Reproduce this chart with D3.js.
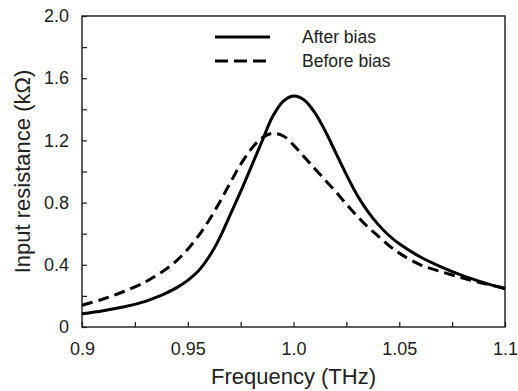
<!DOCTYPE html>
<html>
<head>
<meta charset="utf-8">
<script src="https://cdn.jsdelivr.net/npm/d3@7"></script>
<style>
  body { margin: 0; background: #fff; }
  svg { font-family: "Liberation Sans", Arial, sans-serif; }
</style>
</head>
<body>
<div id="chart"></div>
<script>
// frequency samples (THz)
const freq = [0.90, 0.91, 0.92, 0.93, 0.935, 0.94, 0.945, 0.95, 0.955, 0.96, 0.965, 0.97, 0.975, 0.98,
  0.985, 0.99, 0.995, 1.0, 1.005, 1.01, 1.015, 1.02, 1.025, 1.03, 1.035, 1.04, 1.045,
  1.05, 1.06, 1.07, 1.08, 1.09, 1.10];
// input resistance (kOhm)
const afterBias = [0.085, 0.105, 0.13, 0.165, 0.19, 0.22, 0.255, 0.30, 0.36, 0.45, 0.57, 0.72, 0.87, 1.03,
  1.19, 1.35, 1.45, 1.485, 1.46, 1.38, 1.26, 1.12, 0.98, 0.85, 0.745, 0.66, 0.59,
  0.535, 0.45, 0.385, 0.33, 0.285, 0.245];
const beforeBias = [0.14, 0.18, 0.23, 0.29, 0.33, 0.375, 0.43, 0.50, 0.585, 0.685, 0.80, 0.925, 1.045, 1.145,
  1.215, 1.245, 1.23, 1.17, 1.095, 1.02, 0.945, 0.87, 0.79, 0.715, 0.645, 0.585, 0.525,
  0.475, 0.40, 0.355, 0.315, 0.28, 0.25];

const xTicks = [0.9, 0.925, 0.95, 0.975, 1.0, 1.025, 1.05, 1.075, 1.1];
const xLabels = { 0.9: '0.9', 0.95: '0.95', 1.0: '1.0', 1.05: '1.05', 1.1: '1.1' };
const yTicks = [0, 0.2, 0.4, 0.6, 0.8, 1.0, 1.2, 1.4, 1.6, 1.8, 2.0];
const yLabels = { 0: '0', 0.4: '0.4', 0.8: '0.8', 1.2: '1.2', 1.6: '1.6', 2.0: '2.0' };

const series = [
  { name: 'After bias', values: afterBias, dash: null },
  { name: 'Before bias', values: beforeBias, dash: '11,6' }
];

const width = 518, height = 391;
const plot = { left: 82, right: 505, top: 16, bottom: 327 };
const ink = '#1a1a1a';

const svg = d3.select('#chart').append('svg')
  .attr('width', width)
  .attr('height', height);

const x = d3.scaleLinear().domain([0.9, 1.1]).range([plot.left, plot.right]);
const y = d3.scaleLinear().domain([0, 2.0]).range([plot.bottom, plot.top]);

// bottom axis, ticks inward
const xAxis = svg.append('g')
  .attr('transform', `translate(0, ${plot.bottom})`)
  .call(d3.axisBottom(x).tickValues(xTicks).tickSizeInner(-5).tickSizeOuter(0)
    .tickFormat(d => xLabels[d] || ''));
xAxis.select('.domain').remove();
xAxis.selectAll('line').attr('stroke', ink).attr('stroke-width', 1.2);
xAxis.selectAll('text')
  .attr('y', 15)
  .attr('fill', '#222')
  .style('font-size', '18px');

// left axis, ticks inward
const yAxis = svg.append('g')
  .attr('transform', `translate(${plot.left}, 0)`)
  .call(d3.axisLeft(y).tickValues(yTicks).tickSizeInner(-5).tickSizeOuter(0)
    .tickFormat(d => yLabels[d] !== undefined ? yLabels[d] : ''));
yAxis.select('.domain').remove();
yAxis.selectAll('line').attr('stroke', ink).attr('stroke-width', 1.2);
yAxis.selectAll('text')
  .attr('x', -13)
  .attr('fill', '#222')
  .style('font-size', '18px');

// frame
svg.append('rect')
  .attr('x', plot.left)
  .attr('y', plot.top)
  .attr('width', plot.right - plot.left)
  .attr('height', plot.bottom - plot.top)
  .attr('fill', 'none')
  .attr('stroke', ink)
  .attr('stroke-width', 1.4);

const line = d3.line()
  .x((d, i) => x(freq[i]))
  .y(d => y(d))
  .curve(d3.curveCatmullRom.alpha(0.5));

svg.selectAll('path.curve')
  .data(series)
  .enter()
  .append('path')
  .attr('class', 'curve')
  .attr('d', d => line(d.values))
  .attr('fill', 'none')
  .attr('stroke', '#000')
  .attr('stroke-width', 3)
  .attr('stroke-dasharray', d => d.dash);

// legend
const legend = svg.append('g');
series.forEach((s, i) => {
  const ly = 37 + i * 24;
  legend.append('line')
    .attr('x1', 215).attr('x2', 270)
    .attr('y1', ly).attr('y2', ly)
    .attr('stroke', '#000')
    .attr('stroke-width', 3)
    .attr('stroke-dasharray', s.dash ? '13,6' : null);
  legend.append('text')
    .attr('x', 302)
    .attr('y', ly)
    .attr('dy', '0.35em')
    .attr('fill', '#222')
    .style('font-size', '17.5px')
    .text(s.name);
});

// axis titles
svg.append('text')
  .attr('x', (plot.left + plot.right) / 2)
  .attr('y', 384)
  .attr('text-anchor', 'middle')
  .attr('fill', '#222')
  .style('font-size', '22px')
  .text('Frequency (THz)');

svg.append('text')
  .attr('transform', `translate(30, ${(plot.top + plot.bottom) / 2}) rotate(-90)`)
  .attr('text-anchor', 'middle')
  .attr('fill', '#222')
  .style('font-size', '22px')
  .text('Input resistance (kΩ)');
</script>
</body>
</html>
